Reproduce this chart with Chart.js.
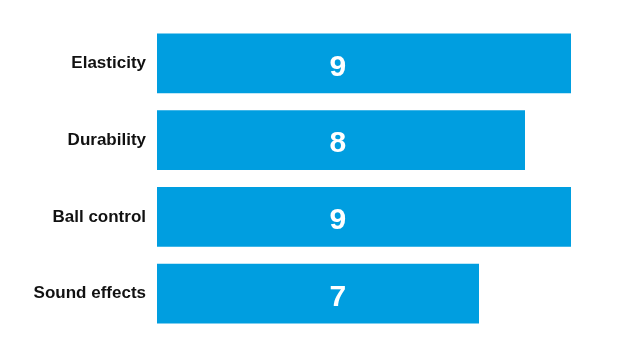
<!DOCTYPE html>
<html>
<head>
<meta charset="utf-8">
<script src="https://cdn.jsdelivr.net/npm/chart.js@4"></script>
<style>
html,body{margin:0;padding:0;background:#fff;}
#wrap{width:619px;height:360px;position:relative;}
</style>
</head>
<body>
<div id="wrap"><canvas id="c" width="619" height="360"></canvas></div>
<script>
const categories = ["Elasticity", "Durability", "Ball control", "Sound effects"];
const values = [9, 8, 9, 7];
const axisMax = 9;

const valueLabels = {
  id: 'valueLabels',
  afterDatasetsDraw(chart) {
    const ctx = chart.ctx;
    const area = chart.chartArea;
    const meta = chart.getDatasetMeta(0);
    const x = area.left + (area.right - area.left) * 0.437;
    ctx.save();
    ctx.fillStyle = '#ffffff';
    ctx.font = 'bold 30px "Liberation Sans", Arial, sans-serif';
    ctx.textAlign = 'center';
    ctx.textBaseline = 'middle';
    meta.data.forEach((bar, i) => {
      ctx.fillText(String(values[i]), x, bar.y + 4);
    });
    ctx.restore();
  }
};

new Chart(document.getElementById('c'), {
  type: 'bar',
  data: {
    labels: categories,
    datasets: [{
      data: values,
      backgroundColor: '#009ee0',
      borderWidth: 0,
      barPercentage: 1,
      categoryPercentage: 0.78
    }]
  },
  options: {
    indexAxis: 'y',
    responsive: false,
    animation: false,
    layout: { padding: { top: 25, bottom: 28, left: 0, right: 48 } },
    plugins: { legend: { display: false }, tooltip: { enabled: false } },
    scales: {
      x: { display: false, min: 0, max: axisMax },
      y: {
        grid: { display: false, drawTicks: false },
        border: { display: false },
        ticks: {
          color: '#111111',
          padding: 11,
          font: { family: '"Liberation Sans", Arial, sans-serif', size: 17, weight: 'bold' }
        },
        afterFit(scale) { scale.width = 157; }
      }
    }
  },
  plugins: [valueLabels]
});
</script>
</body>
</html>
